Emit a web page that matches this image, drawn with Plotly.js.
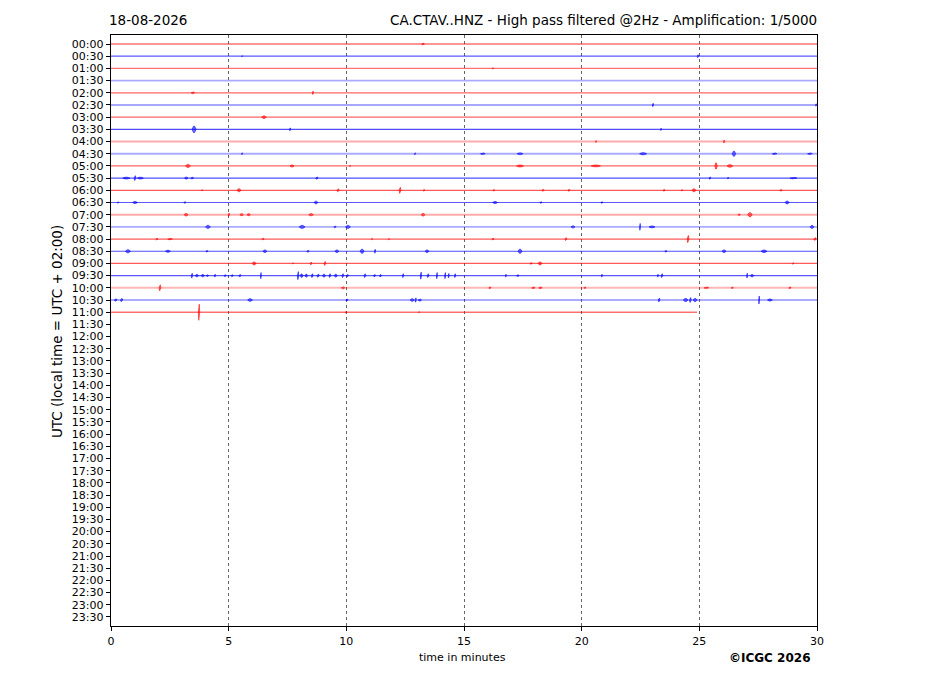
<!DOCTYPE html>
<html>
<head>
<meta charset="utf-8">
<script src="https://cdn.plot.ly/plotly-3.0.1.min.js"></script>
<style>html,body{margin:0;padding:0;background:#fff;}#chart{width:927px;height:696px;}</style>
</head>
<body>
<div id="chart"></div>
<script>
// ---- data ----
const dateLabel = "18-08-2026";
const stationTitle = "CA.CTAV..HNZ - High pass filtered @2Hz - Amplification: 1/5000";
const rowLabels = ["00:00","00:30","01:00","01:30","02:00","02:30","03:00","03:30","04:00","04:30",
  "05:00","05:30","06:00","06:30","07:00","07:30","08:00","08:30","09:00","09:30",
  "10:00","10:30","11:00","11:30","12:00","12:30","13:00","13:30","14:00","14:30",
  "15:00","15:30","16:00","16:30","17:00","17:30","18:00","18:30","19:00","19:30",
  "20:00","20:30","21:00","21:30","22:00","22:30","23:00","23:30"];
const minuteTicks = [0, 5, 10, 15, 20, 25, 30];
const recordedRows = 23;          // rows 00:00 .. 11:00 recorded
const lastRowEnd = 24.9;          // minutes recorded in the 11:00 row
// background noise level of each recorded row (in trace units)
const rowNoise = [0.5,0.3,0.5,1.0,0.4,0.2,0.4,0.2,1.0,1.0,0.4,0.2,0.3,0.3,1.0,1.0,0.3,0.2,0.3,0.3,1.1,0.3,0.5];
// seismic events: [row, minute, half amplitude (rows), duration (minutes)]
const events = [
  [0,13.26,0.08,0.12],
  [1,24.94,0.12,0.06],[1,5.57,0.05,0.04],
  [2,16.23,0.06,0.05],
  [4,8.58,0.14,0.05],[4,3.48,0.07,0.15],
  [5,23.03,0.14,0.05],[5,29.96,0.10,0.04],
  [6,6.50,0.10,0.20],
  [7,3.53,0.25,0.17],[7,7.61,0.12,0.05],[7,23.37,0.10,0.04],
  [8,26.05,0.12,0.05],[8,20.61,0.08,0.05],
  [9,26.47,0.20,0.15],[9,22.61,0.08,0.30],[9,5.57,0.08,0.05],[9,12.92,0.08,0.05],[9,17.38,0.07,0.25],[9,15.80,0.06,0.20],[9,28.20,0.06,0.20],[9,29.70,0.06,0.20],
  [10,3.27,0.12,0.21],[10,7.69,0.08,0.17],[10,17.38,0.08,0.30],[10,20.60,0.07,0.40],[10,25.71,0.25,0.10],[10,26.30,0.10,0.25],[10,10.16,0.05,0.05],
  [11,0.65,0.07,0.30],[11,1.02,0.20,0.08],[11,1.25,0.07,0.25],[11,3.20,0.08,0.15],[11,3.45,0.08,0.12],[11,8.75,0.10,0.10],[11,25.45,0.10,0.08],[11,26.22,0.08,0.05],[11,29.00,0.06,0.30],
  [12,3.87,0.06,0.05],[12,5.44,0.12,0.17],[12,9.65,0.12,0.10],[12,12.28,0.25,0.08],[12,13.30,0.08,0.05],[12,16.27,0.08,0.05],[12,18.36,0.08,0.10],[12,19.46,0.08,0.10],[12,23.50,0.07,0.10],[12,24.26,0.07,0.05],[12,24.77,0.12,0.17],[12,28.47,0.07,0.10],
  [13,0.30,0.07,0.05],[13,1.02,0.08,0.21],[13,3.14,0.06,0.10],[13,8.71,0.10,0.17],[13,16.32,0.08,0.21],[13,18.27,0.06,0.10],[13,20.86,0.06,0.10],[13,28.73,0.12,0.17],
  [14,3.19,0.10,0.17],[14,5.01,0.14,0.06],[14,5.55,0.08,0.15],[14,5.85,0.08,0.15],[14,8.50,0.08,0.20],[14,13.26,0.10,0.17],[14,26.69,0.07,0.10],[14,27.15,0.16,0.20],
  [15,4.12,0.12,0.21],[15,8.12,0.12,0.25],[15,9.52,0.07,0.10],[15,10.07,0.12,0.21],[15,19.63,0.08,0.17],[15,22.48,0.28,0.04],[15,22.99,0.07,0.25],[15,29.79,0.12,0.17],
  [16,1.95,0.06,0.10],[16,2.51,0.06,0.20],[16,6.46,0.06,0.10],[16,11.09,0.06,0.05],[16,11.81,0.06,0.05],[16,16.23,0.06,0.10],[16,19.33,0.12,0.08],[16,24.52,0.30,0.08],[16,29.92,0.12,0.10],
  [17,0.72,0.12,0.21],[17,2.42,0.08,0.21],[17,4.08,0.06,0.10],[17,6.54,0.10,0.17],[17,8.37,0.08,0.10],[17,9.60,0.10,0.17],[17,10.67,0.16,0.17],[17,11.22,0.16,0.05],[17,13.43,0.10,0.17],[17,17.38,0.16,0.17],[17,23.58,0.06,0.10],[17,26.05,0.10,0.17],[17,27.75,0.10,0.25],
  [18,6.08,0.12,0.17],[18,7.73,0.05,0.05],[18,8.50,0.12,0.06],[18,9.09,0.16,0.08],[18,17.85,0.06,0.10],[18,18.23,0.12,0.17],[18,28.98,0.07,0.05],
  [19,3.44,0.20,0.06],[19,3.65,0.10,0.15],[19,3.90,0.10,0.15],[19,4.10,0.08,0.10],[19,4.42,0.12,0.05],[19,4.85,0.08,0.10],[19,5.15,0.08,0.10],[19,5.48,0.10,0.10],[19,6.37,0.25,0.04],[19,7.95,0.33,0.06],[19,8.10,0.14,0.12],
  [19,8.30,0.12,0.12],[19,8.55,0.16,0.08],[19,8.80,0.14,0.10],[19,9.05,0.12,0.12],[19,9.30,0.16,0.08],[19,9.55,0.12,0.12],[19,9.85,0.16,0.08],[19,10.05,0.10,0.10],[19,10.79,0.16,0.08],[19,11.20,0.10,0.10],[19,11.45,0.10,0.10],
  [19,12.41,0.16,0.06],[19,13.17,0.29,0.06],[19,13.47,0.16,0.08],[19,13.85,0.25,0.05],[19,14.20,0.25,0.05],[19,14.35,0.18,0.05],[19,14.62,0.16,0.06],[19,16.78,0.12,0.04],[19,17.29,0.08,0.10],[19,20.86,0.12,0.04],[19,23.24,0.12,0.04],[19,23.41,0.16,0.08],[19,27.03,0.20,0.04],[19,27.24,0.10,0.15],
  [20,2.08,0.25,0.08],[20,9.86,0.08,0.15],[20,16.10,0.08,0.10],[20,17.95,0.07,0.15],[20,18.25,0.07,0.15],[20,20.14,0.06,0.10],[20,25.30,0.06,0.20],[20,26.40,0.06,0.10],[20,28.85,0.08,0.10],
  [21,0.20,0.10,0.12],[21,0.45,0.14,0.10],[21,5.91,0.10,0.21],[21,10.03,0.08,0.10],[21,12.80,0.10,0.18],[21,12.95,0.18,0.05],[21,13.12,0.08,0.15],[21,23.29,0.16,0.08],[21,24.42,0.12,0.20],[21,24.62,0.20,0.08],[21,24.82,0.12,0.18],[21,27.54,0.33,0.04],[21,28.00,0.08,0.21],
  [22,3.74,0.66,0.06],[22,9.99,0.07,0.08],[22,13.09,0.05,0.05]
];

// ---- drawing ----
const RED = '255,0,0', BLUE = '0,0,255';
const rowColor = r => (r % 2 === 0 ? RED : BLUE);
const traces = [];
for (let r = 0; r < recordedRows; r++) {
  const n = rowNoise[r];
  traces.push({
    type: 'scatter', mode: 'lines',
    x: [0, r === recordedRows - 1 ? lastRowEnd : 30], y: [r, r],
    line: {color: 'rgba(' + rowColor(r) + ',' + (0.78 - 0.45 * n).toFixed(2) + ')', width: 0.9 + 1.0 * n},
    hoverinfo: 'skip', showlegend: false
  });
}
[RED, BLUE].forEach(col => {
  const xs = [], ys = [];
  events.forEach(([r, m, a, d]) => {
    if (rowColor(r) !== col) return;
    xs.push(m - d / 2, m - d / 6, m + d / 6, m + d / 2, m + d / 6, m - d / 6, m - d / 2, null);
    ys.push(r, r - a, r - a, r, r + a, r + a, r, null);
  });
  traces.push({
    type: 'scatter', mode: 'lines', x: xs, y: ys, fill: 'toself',
    fillcolor: 'rgba(' + col + ',0.55)',
    line: {color: 'rgba(' + col + ',0.8)', width: 0.7},
    hoverinfo: 'skip', showlegend: false
  });
});

const tickVals = rowLabels.map((_, i) => i);
const layout = {
  width: 927, height: 696,
  margin: {l: 111, r: 110, t: 35, b: 70, pad: 0},
  paper_bgcolor: '#fff', plot_bgcolor: '#fff',
  font: {family: 'DejaVu Sans, sans-serif', color: '#000', size: 11},
  showlegend: false,
  xaxis: {
    range: [0, 30], tickvals: minuteTicks, ticktext: minuteTicks.map(String),
    showgrid: true, gridcolor: 'rgba(0,0,0,0.75)', gridwidth: 0.8, griddash: 'dot',
    zeroline: false, showline: true, mirror: true, linecolor: '#000', linewidth: 1.3,
    ticks: 'outside', ticklen: 4, tickwidth: 1, tickcolor: '#000',
    tickfont: {size: 11}
  },
  yaxis: {
    range: [47.74, -0.74], tickvals: tickVals, ticktext: rowLabels,
    showgrid: false, zeroline: false, showline: true, mirror: true, linecolor: '#000', linewidth: 1.3,
    ticks: 'outside', ticklen: 4, tickwidth: 1, tickcolor: '#000',
    tickfont: {size: 11}
  },
  annotations: [
    {text: dateLabel, xref: 'paper', yref: 'paper', x: -0.005, y: 1.0254, xanchor: 'left', yanchor: 'middle', showarrow: false, font: {size: 13.5}},
    {text: stationTitle, xref: 'paper', yref: 'paper', x: 1.003, y: 1.0254, xanchor: 'right', yanchor: 'middle', showarrow: false, font: {size: 13.5}},
    {text: 'UTC (local time = UTC + 02:00)', xref: 'paper', yref: 'paper', x: -0.0765, y: 0.499, xanchor: 'center', yanchor: 'middle', textangle: -90, showarrow: false, font: {size: 13.5}},
    {text: 'time in minutes', xref: 'paper', yref: 'paper', x: 0.4985, y: -0.0525, xanchor: 'center', yanchor: 'middle', showarrow: false, font: {size: 11}},
    {text: '<b>©ICGC 2026</b>', xref: 'paper', yref: 'paper', x: 0.9334, y: -0.0545, xanchor: 'center', yanchor: 'middle', showarrow: false, font: {size: 12}}
  ]
};
Plotly.newPlot('chart', traces, layout, {staticPlot: true, displayModeBar: false});
</script>
</body>
</html>
